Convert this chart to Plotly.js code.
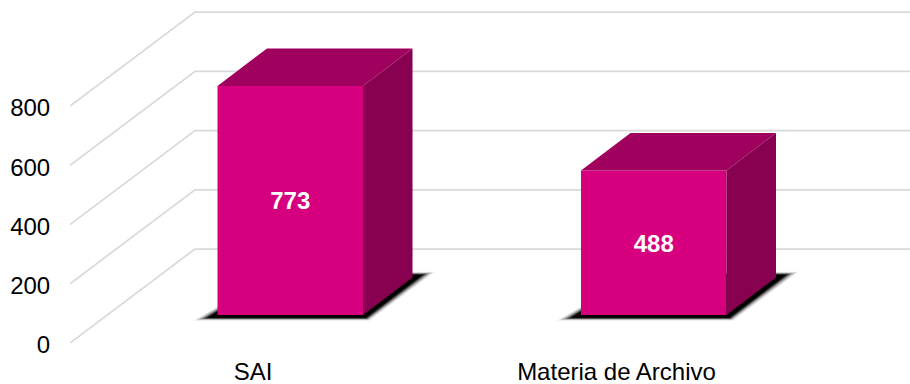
<!DOCTYPE html>
<html>
<head>
<meta charset="utf-8">
<script src="https://cdn.plot.ly/plotly-3.0.0.min.js"></script>
<style>html,body{margin:0;padding:0;background:#fff}#c{width:910px;height:384px}</style>
</head>
<body>
<div id="c"></div>
<script>
const categories = ["SAI", "Materia de Archivo"];
const values = [773, 488];
const yTicks = [0, 200, 400, 600, 800];

const W = 910, H = 384, L = 70, B = 41;
const catPx = 363.5, catZero = 253, pxPerVal = 0.29625;
const ux = 1 / catPx, uy = 1 / pxPerVal;          // one pixel in data units
const xRange = [(L - catZero) * ux, (W - catZero) * ux];
const yRange = [0, (H - B) * uy];

const wallDX = 125 * ux, wallDY = 94 * uy;         // floor depth
const barHalf = 72.75 * ux;                        // half bar width
const barZ = 0.298;                                // front face position in depth
const barDX = 49.5 * ux, barDY = 37.5 * uy;        // bar depth

const traces = [];
const poly = (xs, ys, color, opacity) => traces.push({
  x: xs.concat(xs[0]), y: ys.concat(ys[0]), type: 'scatter', mode: 'lines',
  fill: 'toself', fillcolor: color, line: {width: 0}, opacity: opacity === undefined ? 1 : opacity,
  hoverinfo: 'skip', showlegend: false
});

// gridlines: side wall and back wall
yTicks.forEach(v => traces.push({
  x: [xRange[0], xRange[0] + wallDX, xRange[1]],
  y: [v, v + wallDY, v + wallDY],
  type: 'scatter', mode: 'lines', cliponaxis: false,
  line: {color: '#D9D9D9', width: 1.75}, hoverinfo: 'skip', showlegend: false
}));

values.forEach((val, i) => {
  const x0 = i + barZ * wallDX - barHalf, x1 = i + barZ * wallDX + barHalf;
  const yb = barZ * wallDY;
  // soft floor shadow, built from stacked translucent layers
  const layers = [[9, 0.06], [7.5, 0.09], [6, 0.13], [4.5, 0.2], [3, 0.3], [1.5, 0.45], [0, 0.7], [-1.5, 1]];
  layers.forEach(([g, o]) => {
    poly(
      [x0 - (11 + g * 1.5) * ux, x1 + (3 + g * 0.4) * ux, x1 + barDX + (11 + g * 1.3) * ux, x0 + barDX + 10 * ux],
      [yb - (3 + g * 0.3) * uy, yb - (3 + g * 0.3) * uy, yb + barDY + (3 + g * 0.3) * uy, yb + barDY + (3 + g * 0.3) * uy],
      '#000000', o);
  });
  const yt = yb + val;
  poly([x0, x1, x1, x0], [yb, yb, yt, yt], 'rgb(214,0,127)');
  poly([x0, x1, x1 + barDX, x0 + barDX], [yt, yt, yt + barDY, yt + barDY], 'rgb(160,0,94)');
  poly([x1, x1 + barDX, x1 + barDX, x1], [yb, yb + barDY, yt + barDY, yt], 'rgb(136,0,80)');
  traces.push({
    x: [(x0 + x1) / 2], y: [yb + val / 2 - 3 * uy], text: [String(val)], type: 'scatter', mode: 'text',
    textposition: 'middle center', hoverinfo: 'skip', showlegend: false,
    textfont: {family: 'Liberation Sans, Arial, sans-serif', size: 24, color: '#FFFFFF', weight: 700}
  });
});

const tickFont = {family: 'Liberation Sans, Arial, sans-serif', size: 24, color: '#000000'};
Plotly.newPlot('c', traces, {
  width: W, height: H, paper_bgcolor: '#fff', plot_bgcolor: '#fff',
  margin: {l: L, r: 0, t: 0, b: B, pad: 0},
  showlegend: false, hovermode: false,
  xaxis: {range: xRange, tickmode: 'array', tickvals: categories.map((_, i) => i), ticktext: categories,
    showgrid: false, zeroline: false, showline: false, ticks: 'outside', ticklen: 7,
    tickcolor: 'rgba(0,0,0,0)', tickfont: tickFont, tickangle: 0, fixedrange: true},
  yaxis: {range: yRange, tickmode: 'array', tickvals: yTicks, ticktext: yTicks.map(String),
    showgrid: false, zeroline: false, showline: false, ticks: 'outside', ticklen: 14,
    tickcolor: 'rgba(0,0,0,0)', tickfont: tickFont, ticklabelshift: 2, fixedrange: true}
}, {displayModeBar: false, staticPlot: true});
</script>
</body>
</html>
